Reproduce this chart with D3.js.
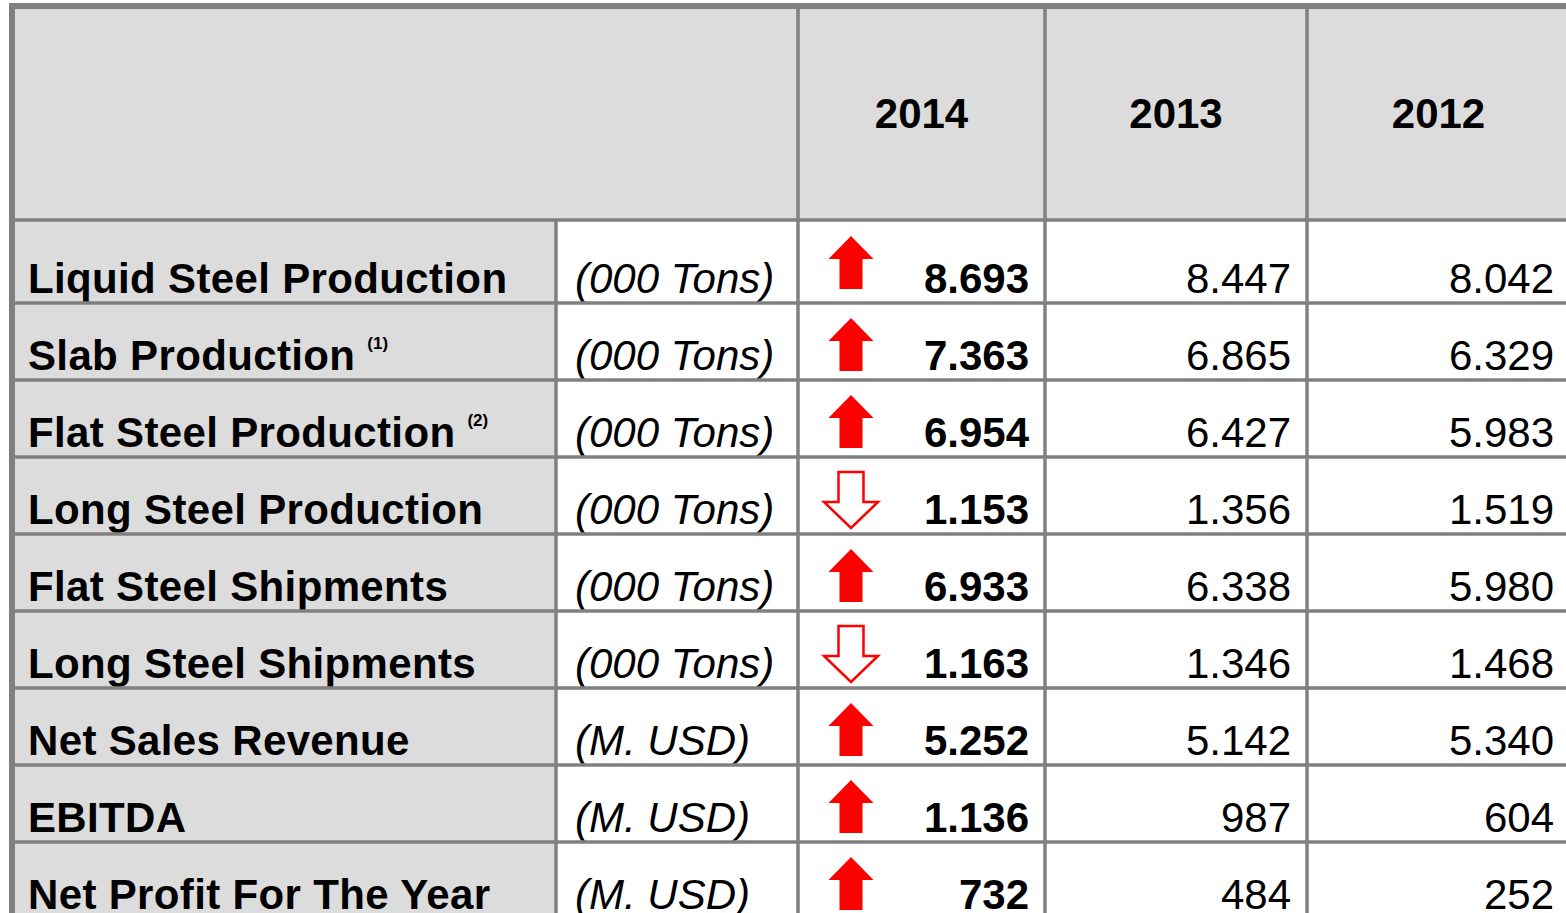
<!DOCTYPE html>
<html lang="en">
<head>
    <meta charset="utf-8">
    <title>Key figures 2012-2014</title>
    <script src="https://d3js.org/d3.v7.min.js"></script>
    <style>
        body { margin: 0; background: #fff; }
        text { font-family: "Liberation Sans", Arial, sans-serif; fill: #000; }
    </style>
</head>
<body>
<svg width="1566" height="913"></svg>
<script>
    // data
    var labels = ["Liquid Steel Production", "Slab Production", "Flat Steel Production",
        "Long Steel Production", "Flat Steel Shipments", "Long Steel Shipments",
        "Net Sales Revenue", "EBITDA", "Net Profit For The Year"];
    var notes = ["", "(1)", "(2)", "", "", "", "", "", ""];
    var units = ["(000 Tons)", "(000 Tons)", "(000 Tons)", "(000 Tons)", "(000 Tons)",
        "(000 Tons)", "(M. USD)", "(M. USD)", "(M. USD)"];
    var years = ["2014", "2013", "2012"];
    var v2014 = [8693, 7363, 6954, 1153, 6933, 1163, 5252, 1136, 732];
    var v2013 = [8447, 6865, 6427, 1356, 6338, 1346, 5142, 987, 484];
    var v2012 = [8042, 6329, 5983, 1519, 5980, 1468, 5340, 604, 252];
    var series = [v2014, v2013, v2012];

    var grid = "#808080", shade = "#dcdcdc", red = "#ff0000";
    var fs = 42;

    // thousands separated with a dot
    var fmt = d3.formatLocale({decimal: ",", thousands: ".", grouping: [3], currency: ["", ""]}).format(",d");

    var svg = d3.select("svg");

    // column edges: label | unit | 2014 | 2013 | 2012
    var colEdge = d3.scaleOrdinal()
        .domain(["label", "unit", "2014", "2013", "2012", "end"])
        .range([12, 556, 798, 1045, 1307, 1570]);
    var y = d3.scaleBand()
        .domain(d3.range(labels.length))
        .range([226, 226 + 77 * labels.length])
        .padding(0);
    var headTop = 6, headBottom = 220;
    function rowTop(i) { return i === 0 ? headBottom : y(i); }
    function rowBottom(i) { return y(i) + y.bandwidth(); }

    // backgrounds
    svg.append("rect")
        .attr("x", colEdge("label")).attr("y", headTop)
        .attr("width", colEdge("end") - colEdge("label")).attr("height", headBottom - headTop)
        .attr("fill", shade);
    svg.append("rect")
        .attr("x", colEdge("label")).attr("y", headBottom)
        .attr("width", colEdge("unit") - colEdge("label")).attr("height", rowBottom(labels.length - 1) - headBottom)
        .attr("fill", shade);

    // header years
    svg.selectAll(".year")
        .data(years)
        .enter()
        .append("text")
        .attr("class", "year")
        .attr("x", function(d, i) {
            var next = i < 2 ? years[i + 1] : "end";
            return (colEdge(d) + colEdge(next)) / 2;
        })
        .attr("y", 128)
        .attr("text-anchor", "middle")
        .attr("font-size", fs)
        .attr("font-weight", "bold")
        .text(function(d) { return d; });

    var rows = svg.selectAll(".row")
        .data(labels)
        .enter()
        .append("g")
        .attr("class", "row")
        .attr("transform", function(d, i) { return "translate(0," + (rowBottom(i) - 10) + ")"; });

    // row labels with footnote marks
    var lab = rows.append("text")
        .attr("x", 28)
        .attr("font-size", fs)
        .attr("font-weight", "bold");
    lab.append("tspan")
        .attr("letter-spacing", 0.35)
        .text(function(d) { return d; });
    lab.append("tspan")
        .attr("dx", 12).attr("dy", -21)
        .attr("font-size", 17)
        .text(function(d, i) { return notes[i]; });

    rows.append("text")
        .attr("x", 575)
        .attr("font-size", fs)
        .attr("font-style", "italic")
        .text(function(d, i) { return units[i]; });

    // values
    years.forEach(function(yr, k) {
        var next = k < 2 ? years[k + 1] : "end";
        rows.append("text")
            .attr("x", colEdge(next) - 16)
            .attr("text-anchor", "end")
            .attr("font-size", fs)
            .attr("font-weight", k === 0 ? "bold" : "normal")
            .text(function(d, i) { return fmt(series[k][i]); });
    });

    // trend arrows (2014 vs 2013)
    var upPath = "M0,0 L22.5,23 L11.5,23 L11.5,53 L-11.5,53 L-11.5,23 L-22.5,23 Z";
    var downPath = "M-12.5,0 L12.5,0 L12.5,30 L27,30 L0,56 L-27,30 L-12.5,30 Z";
    svg.selectAll(".arrow")
        .data(labels)
        .enter()
        .append("path")
        .attr("class", "arrow")
        .attr("transform", function(d, i) {
            return "translate(851," + (rowTop(i) + (i === 0 ? 16 : 15)) + ")";
        })
        .attr("d", function(d, i) { return v2014[i] > v2013[i] ? upPath : downPath; })
        .attr("fill", function(d, i) { return v2014[i] > v2013[i] ? red : "#fff"; })
        .attr("stroke", function(d, i) { return v2014[i] > v2013[i] ? "none" : red; })
        .attr("stroke-width", 2.5);

    // grid lines
    var hLines = d3.range(labels.length).map(function(i) { return rowBottom(i); });
    svg.selectAll(".hline")
        .data(hLines)
        .enter()
        .append("line")
        .attr("x1", colEdge("label")).attr("x2", colEdge("end"))
        .attr("y1", function(d) { return d; }).attr("y2", function(d) { return d; })
        .attr("stroke", grid).attr("stroke-width", 3.5);
    svg.append("line")
        .attr("x1", colEdge("label")).attr("x2", colEdge("end"))
        .attr("y1", headBottom).attr("y2", headBottom)
        .attr("stroke", grid).attr("stroke-width", 3.5);
    svg.append("line")
        .attr("x1", colEdge("unit")).attr("x2", colEdge("unit"))
        .attr("y1", headBottom).attr("y2", 913)
        .attr("stroke", grid).attr("stroke-width", 3.5);
    svg.selectAll(".vline")
        .data(years)
        .enter()
        .append("line")
        .attr("x1", function(d) { return colEdge(d); }).attr("x2", function(d) { return colEdge(d); })
        .attr("y1", headTop).attr("y2", 913)
        .attr("stroke", grid).attr("stroke-width", 3.5);
    // outer frame
    svg.append("line")
        .attr("x1", 12).attr("x2", 12).attr("y1", 3).attr("y2", 913)
        .attr("stroke", grid).attr("stroke-width", 6);
    svg.append("line")
        .attr("x1", 9).attr("x2", 1570).attr("y1", 6).attr("y2", 6)
        .attr("stroke", grid).attr("stroke-width", 6);
</script>
</body>
</html>
